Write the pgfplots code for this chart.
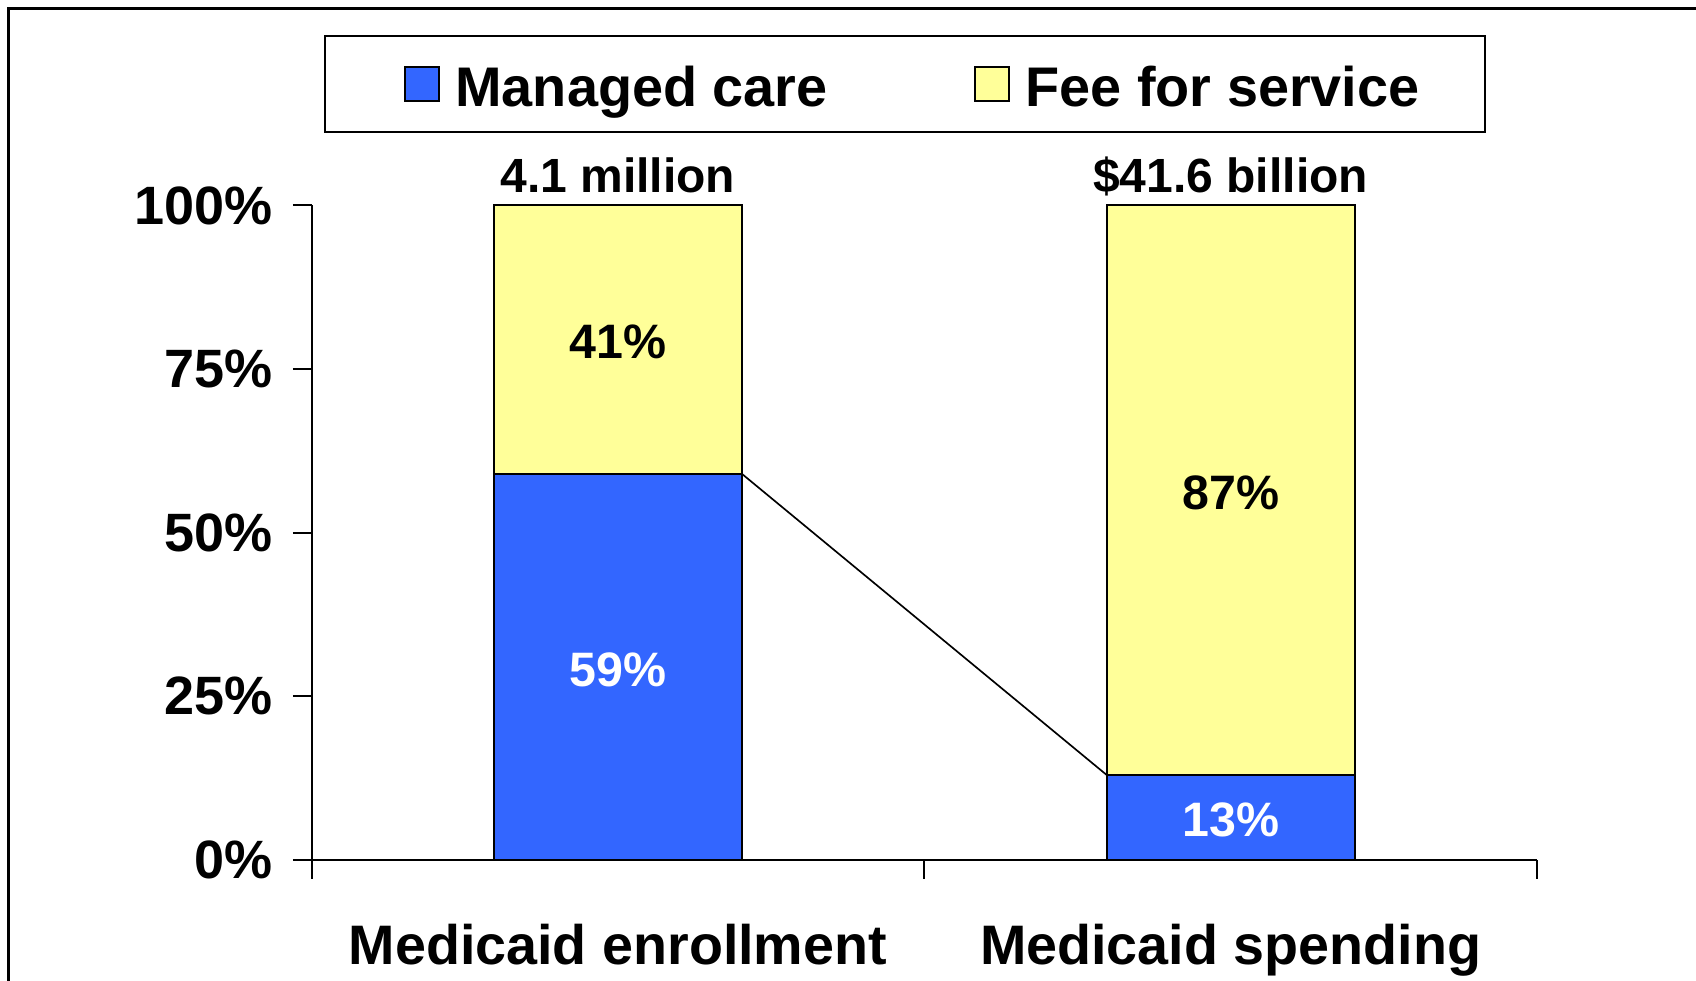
\documentclass[border=0pt]{standalone}
\usepackage{fontspec}
\setmainfont{Liberation Sans}
\usepackage{pgfplots}
\pgfplotsset{compat=1.18}
\definecolor{mcblue}{HTML}{3366FF}
\definecolor{ffsyellow}{HTML}{FFFF99}

\pgfplotsset{
  plotbox/.style={at={(93.45pt,36.3pt)}, anchor=south west,
    scale only axis, width=367.65pt, height=196.35pt,
    xmin=-0.5, xmax=1.5, ymin=0, ymax=100, clip=false},
}

\begin{document}
\begin{tikzpicture}
% 1 px of the reference = 0.3pt
\useasboundingbox (0,0) rectangle (508.8pt,294.3pt);
\draw[line width=0.9pt] (2.4pt,-2pt) -- (2.4pt,291.6pt) -- (512pt,291.6pt);
\begin{axis}[
  plotbox,
  ybar stacked, bar width=74.4pt,
  axis x line=bottom, axis y line=left,
  axis line style={-, line width=0.6pt},
  tick align=outside, major tick length=5.6pt,
  tick style={black, line width=0.6pt},
  xtick={-0.5,0.5,1.5}, xticklabels={,,},
  extra x ticks={0,1},
  extra x tick labels={Medicaid enrollment,Medicaid spending},
  extra x tick style={major tick length=0pt},
  xticklabel style={font=\bfseries\fontsize{16.7}{18}\selectfont, inner sep=0pt, anchor=base, yshift=-31.2pt},
  ytick={0,25,50,75,100},
  yticklabels={0\%,25\%,50\%,75\%,100\%},
  yticklabel style={font=\bfseries\fontsize{16.2}{18}\selectfont, inner sep=0pt, anchor=east, xshift=-6pt},
  legend columns=2,
  legend image code/.code={
      \path (-6.2pt,0pt);
      \draw[#1,draw=black,line width=0.6pt] (0pt,-5.1pt) rectangle (10.2pt,5.1pt);
      \path (12.7pt,0pt);},
  legend style={at={(0.4843,1.1856)}, anchor=center, draw=black, line width=0.6pt,
    font=\bfseries\fontsize{16.75}{18}\selectfont,
    inner xsep=17.5pt, inner ysep=5.5pt,
    nodes={text height=13.6pt, text depth=0pt},
    /tikz/every even column/.append style={column sep=35.8pt}},
]
\addplot[fill=mcblue, draw=black, line width=0.6pt] coordinates {(0,59) (1,13)};
\addplot[fill=ffsyellow, draw=black, line width=0.6pt] coordinates {(0,41) (1,87)};
\legend{Managed care,Fee for service}
\end{axis}
% connector and value labels, on an overlaid axis so they sit above the bars
\begin{axis}[plotbox, hide axis]
\addplot[black, line width=0.5pt, no marks] coordinates {(0.2024,59) (0.7976,13)};
\node[font=\bfseries\fontsize{14.4}{16}\selectfont, anchor=base, yshift=3.9pt] at (axis cs:0,100) {4.1 million};
\node[font=\bfseries\fontsize{14.4}{16}\selectfont, anchor=base, yshift=3.9pt] at (axis cs:1,100) {\$41.6 billion};
\begin{scope}[every node/.style={font=\bfseries\fontsize{14.5}{16}\selectfont, yshift=-0.8pt}]
\node[text=white] at (axis cs:0,29.5) {59\%};
\node at (axis cs:0,79.5) {41\%};
\node[text=white] at (axis cs:1,6.5) {13\%};
\node at (axis cs:1,56.5) {87\%};
\end{scope}
\end{axis}
\end{tikzpicture}
\end{document}
